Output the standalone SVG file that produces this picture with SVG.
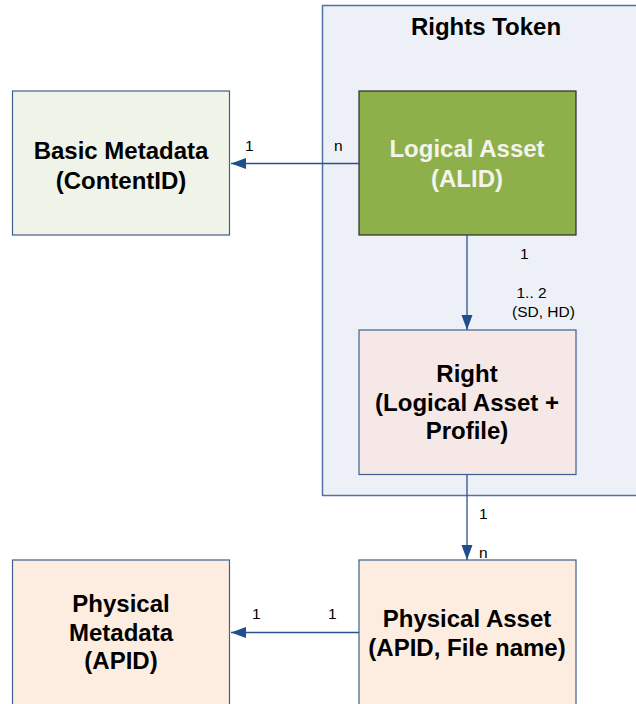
<svg xmlns="http://www.w3.org/2000/svg" width="636" height="704" viewBox="0 0 636 704">
<style>
.big{font-family:"Liberation Sans",Arial,sans-serif;font-weight:bold;font-size:24px;text-anchor:middle;fill:#000}
.sm{font-family:"Liberation Sans",Arial,sans-serif;font-size:15.5px;fill:#000}
.box{stroke:#3E5F8F;stroke-width:1.2}
.con{stroke:#2A5290;stroke-width:1.3;fill:none}
</style>
<defs>
<marker id="ah" markerWidth="16" markerHeight="12" refX="15" refY="5.5" orient="auto" markerUnits="userSpaceOnUse">
<path d="M0,0 L15,5.5 L0,11 Z" fill="#1F4E8C"/>
</marker>
</defs>
<rect width="636" height="704" fill="#fff"/>
<g id="rights-token">
<rect x="322.5" y="5.5" width="320" height="490" fill="#EDF1F7" stroke="#5272A3" stroke-width="1.5"/>
<text class="big" x="486" y="35">Rights Token</text>
</g>
<g id="basic-metadata">
<rect class="box" x="12.5" y="91" width="217" height="144" fill="#F0F3E7"/>
<text class="big" x="121" y="158.5">Basic Metadata</text>
<text class="big" x="121" y="188.5">(ContentID)</text>
</g>
<g id="logical-asset">
<rect x="359" y="91" width="217" height="144" fill="#8DB04A" stroke="#2B2B2B" stroke-width="1.2"/>
<text class="big" x="467" y="156.5" style="fill:#F4F4EC">Logical Asset</text>
<text class="big" x="467" y="186.5" style="fill:#F4F4EC">(ALID)</text>
</g>
<g id="right">
<rect class="box" x="359" y="330" width="217" height="144.5" fill="#F6E8E7"/>
<text class="big" x="467" y="381.5">Right</text>
<text class="big" x="467" y="410.5">(Logical Asset +</text>
<text class="big" x="467" y="438.5">Profile)</text>
</g>
<g id="physical-metadata">
<rect class="box" x="12.5" y="560" width="217" height="150" fill="#FDEDE0"/>
<text class="big" x="121" y="611.5">Physical</text>
<text class="big" x="121" y="640.5">Metadata</text>
<text class="big" x="121" y="668.5">(APID)</text>
</g>
<g id="physical-asset">
<rect class="box" x="359" y="560" width="217" height="150" fill="#FDEDE0"/>
<text class="big" x="467" y="626.5">Physical Asset</text>
<text class="big" x="467" y="655.5">(APID, File name)</text>
</g>
<g id="connectors">
<line class="con" x1="359" y1="163.5" x2="231" y2="163.5" marker-end="url(#ah)"/>
<line class="con" x1="467" y1="235" x2="467" y2="330" marker-end="url(#ah)"/>
<line class="con" x1="467" y1="474.5" x2="467" y2="560" marker-end="url(#ah)"/>
<line class="con" x1="359" y1="632.5" x2="231" y2="632.5" marker-end="url(#ah)"/>
<text class="sm" x="245" y="150.5">1</text>
<text class="sm" x="334" y="150.5">n</text>
<text class="sm" x="520" y="258.5">1</text>
<text class="sm" x="516.5" y="297.5">1.. 2</text>
<text class="sm" x="512" y="316.5">(SD, HD)</text>
<text class="sm" x="479" y="518.5">1</text>
<text class="sm" x="479" y="557.5">n</text>
<text class="sm" x="252" y="618.5">1</text>
<text class="sm" x="328" y="618.5">1</text>
</g>
</svg>
